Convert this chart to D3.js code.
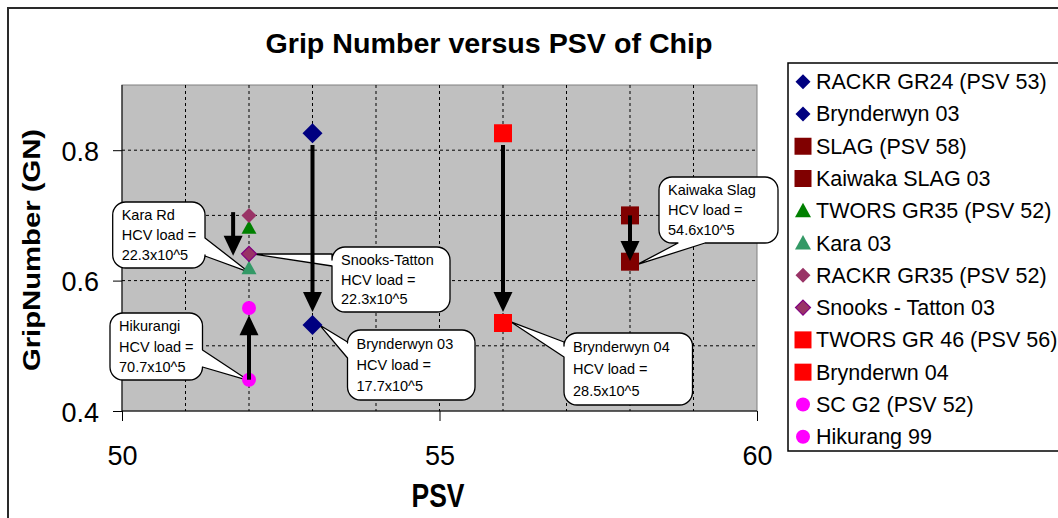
<!DOCTYPE html>
<html>
<head>
<meta charset="utf-8">
<script src="https://cdn.jsdelivr.net/npm/d3@7"></script>
<style>
  html, body { margin: 0; padding: 0; background: #fff; }
  svg { display: block; }
  text { font-family: "Liberation Sans", Arial, sans-serif; }
</style>
</head>
<body>
<svg id="chart" width="1058" height="518"></svg>
<script>
// ---------------- data ----------------
const chartTitle = "Grip Number versus PSV of Chip";
const xAxisTitle = "PSV";
const yAxisTitle = "GripNumber (GN)";

const seriesNames = [
  "RACKR GR24 (PSV 53)", "Brynderwyn 03",
  "SLAG (PSV 58)", "Kaiwaka SLAG 03",
  "TWORS GR35 (PSV 52)", "Kara 03",
  "RACKR GR35 (PSV 52)", "Snooks - Tatton 03",
  "TWORS GR 46 (PSV 56)", "Brynderwn 04",
  "SC G2 (PSV 52)", "Hikurang 99"
];
const psvValues  = [53, 53, 58, 58, 52, 52, 52, 52, 56, 56, 52, 52];
const gripValues = [0.826, 0.532, 0.700, 0.629, 0.681, 0.619, 0.700, 0.641, 0.826, 0.535, 0.558, 0.448];

const xMajorTicks = [50, 55, 60];
const xGridValues = [51, 52, 53, 54, 55, 56, 57, 58, 59];
const yMajorTicks = [0.4, 0.6, 0.8];
const yGridValues = [0.5, 0.6, 0.7, 0.8];
const xTickLabels = ["50", "55", "60"];
const yTickLabels = ["0.4", "0.6", "0.8"];

// arrows (PSV, from GN, to GN)
const arrowPsv  = [53, 56, 58, 51.75, 52];
const arrowFrom = [0.808, 0.808, 0.700, 0.705, 0.448];
const arrowTo   = [0.552, 0.552, 0.630, 0.638, 0.547];

// callouts: text lines and which series point they point at
const calloutLines = [
  ["Kara Rd", "HCV load =", "22.3x10^5"],
  ["Snooks-Tatton", "HCV load =", "22.3x10^5"],
  ["Hikurangi", "HCV load =", "70.7x10^5"],
  ["Brynderwyn 03", "HCV load =", "17.7x10^5"],
  ["Brynderwyn 04", "HCV load =", "28.5x10^5"],
  ["Kaiwaka Slag", "HCV load =", "54.6x10^5"]
];
const calloutTarget = [5, 7, 11, 1, 9, 3];

// ---------------- styles / layout ----------------
const markerShape = ["diamond","diamond","square","square","triangle","triangle","diamond","diamond","square","square","circle","circle"];
const markerFill  = ["#000080","#000080","#800000","#800000","#008000","#339966","#993366","#993366","#FF0000","#FF0000","#FF00FF","#FF00FF"];
const markerStroke= ["none","none","none","none","none","none","none","#800080","none","none","none","none"];
const markerSize  = [10, 10, 9, 9, 7.5, 7.5, 7.5, 7.5, 9, 9, 7, 7];

// callout box layout (pixels) + wedge side/base + tip pixel offset from target point
const calloutLayout = [
  {x:112.7, y:202, w:92.3, h:66, side:"right",  a:238, b:256, dx:0, dy:4},
  {x:332,   y:247, w:118,  h:65, side:"left",   a:254, b:266, dx:3, dy:0},
  {x:110,   y:313, w:92.5, h:67, side:"right",  a:350, b:367, dx:0, dy:1},
  {x:347.5, y:330, w:127.5,h:70, side:"left",   a:342, b:358, dx:7, dy:0},
  {x:564,   y:333, w:128.5,h:72, side:"left",   a:342, b:357, dx:8, dy:-1},
  {x:659,   y:177, w:119,  h:66, side:"bottom", a:678, b:705, dx:7, dy:3}
];

const svg = d3.select("#chart");
const plot = {left: 122, right: 757, top: 85, bottom: 411};

const x = d3.scaleLinear().domain([50, 60]).range([plot.left, plot.right]);
const y = d3.scaleLinear().domain([0.4, 0.9]).range([plot.bottom, plot.top]);

// outer border
svg.append("rect").attr("x", 8).attr("y", 8).attr("width", 1120).attr("height", 600)
  .attr("fill", "#fff").attr("stroke", "#2a2a2a").attr("stroke-width", 2);

// title
svg.append("text").attr("x", 489).attr("y", 53).attr("text-anchor", "middle")
  .attr("font-size", 28).attr("font-weight", "bold")
  .attr("textLength", 447).attr("lengthAdjust", "spacingAndGlyphs")
  .text(chartTitle);

// plot background
svg.append("rect").attr("x", plot.left).attr("y", plot.top)
  .attr("width", plot.right - plot.left).attr("height", plot.bottom - plot.top)
  .attr("fill", "#C0C0C0").attr("stroke", "#808080").attr("stroke-width", 1);

// grid lines
const grid = svg.append("g");
grid.selectAll("line.vx").data(xGridValues).join("line")
  .attr("x1", d => x(d)).attr("x2", d => x(d))
  .attr("y1", plot.top).attr("y2", plot.bottom)
  .attr("stroke", "#000").attr("stroke-width", 1).attr("stroke-dasharray", "3,3");
grid.selectAll("line.hy").data(yGridValues).join("line")
  .attr("y1", d => y(d)).attr("y2", d => y(d))
  .attr("x1", plot.left).attr("x2", plot.right)
  .attr("stroke", "#000").attr("stroke-width", 1).attr("stroke-dasharray", "3,3");

// axes
const xAxis = d3.axisBottom(x).tickValues(xMajorTicks).tickSize(10).tickFormat((d, i) => xTickLabels[i]);
const gx = svg.append("g").attr("transform", `translate(0,${plot.bottom})`).call(xAxis);
gx.select(".domain").attr("stroke", "#000").attr("d", `M${plot.left},0H${plot.right}`);
gx.selectAll(".tick line").attr("stroke", "#000");
gx.selectAll(".tick text").attr("font-size", 27).attr("fill", "#000")
  .attr("font-family", "Liberation Sans, Arial, sans-serif").attr("dy", null).attr("y", 54);

const yAxis = d3.axisLeft(y).tickValues(yMajorTicks).tickSize(9).tickFormat((d, i) => yTickLabels[i]);
const gy = svg.append("g").attr("transform", `translate(${plot.left},0)`).call(yAxis);
gy.select(".domain").attr("stroke", "#000").attr("d", `M0,${plot.bottom}V${plot.top}`);
gy.selectAll(".tick line").attr("stroke", "#000");
gy.selectAll(".tick text").attr("font-size", 27).attr("fill", "#000")
  .attr("font-family", "Liberation Sans, Arial, sans-serif").attr("x", -23).attr("dy", "0.38em");

// axis titles
svg.append("text").attr("x", 438).attr("y", 507).attr("text-anchor", "middle")
  .attr("font-size", 34).attr("font-weight", "bold")
  .attr("textLength", 53).attr("lengthAdjust", "spacingAndGlyphs")
  .text(xAxisTitle);
svg.append("text").attr("text-anchor", "middle")
  .attr("transform", "translate(40,250) rotate(-90) scale(1,0.8)")
  .attr("font-size", 29).attr("font-weight", "bold")
  .attr("textLength", 242).attr("lengthAdjust", "spacingAndGlyphs")
  .text(yAxisTitle);

// marker path generator
function markerPath(shape, s) {
  if (shape === "diamond") return `M0,${-s}L${s},0L0,${s}L${-s},0Z`;
  if (shape === "square") return `M${-s},${-s}H${s}V${s}H${-s}Z`;
  if (shape === "triangle") return `M0,${-s}L${s},${s*0.8}L${-s},${s*0.8}Z`;
  if (shape === "circle") return d3.symbol(d3.symbolCircle, Math.PI * s * s)();
  return "";
}

// callouts
function calloutPath(L, tip) {
  const {x: bx, y: by, w, h} = L, r = 13;
  const R = bx + w, B = by + h;
  let p = `M${bx + r},${by}`;
  p += `H${R - r}A${r},${r} 0 0 1 ${R},${by + r}`;
  if (L.side === "right") p += `V${L.a}L${tip[0]},${tip[1]}L${R},${L.b}`;
  p += `V${B - r}A${r},${r} 0 0 1 ${R - r},${B}`;
  if (L.side === "bottom") p += `H${L.b}L${tip[0]},${tip[1]}L${L.a},${B}`;
  p += `H${bx + r}A${r},${r} 0 0 1 ${bx},${B - r}`;
  if (L.side === "left") p += `V${L.b}L${tip[0]},${tip[1]}L${bx},${L.a}`;
  p += `V${by + r}A${r},${r} 0 0 1 ${bx + r},${by}Z`;
  return p;
}
const callG = svg.append("g");
calloutLines.forEach((lines, i) => {
  const L = calloutLayout[i];
  const t = calloutTarget[i];
  const tip = [x(psvValues[t]) + L.dx, y(gripValues[t]) + L.dy];
  callG.append("path").attr("d", calloutPath(L, tip))
    .attr("fill", "#fff").attr("stroke", "#000").attr("stroke-width", 1.3)
    .attr("stroke-linejoin", "round");
  const lineH = (L.h - 6) / 3;
  callG.selectAll(null).data(lines).join("text")
    .attr("x", L.x + 9)
    .attr("y", (d, k) => L.y + 3 + lineH * (k + 0.5) + 5)
    .attr("font-size", 14.5).attr("fill", "#000")
    .text(d => d);
});

// markers
const idx = d3.range(seriesNames.length);
svg.append("g").selectAll("path").data(idx).join("path")
  .attr("transform", i => `translate(${x(psvValues[i])},${y(gripValues[i])})`)
  .attr("d", i => markerPath(markerShape[i], markerSize[i]))
  .attr("fill", i => markerFill[i])
  .attr("stroke", i => markerStroke[i]).attr("stroke-width", 1.2);

// arrows
const arrG = svg.append("g");
arrowPsv.forEach((p, i) => {
  const ax = x(p), y1 = y(arrowFrom[i]), y2 = y(arrowTo[i]);
  const dir = y2 > y1 ? 1 : -1;
  const headLen = 20, headHalf = 9.5;
  arrG.append("line").attr("x1", ax).attr("x2", ax)
    .attr("y1", y1).attr("y2", y2 - dir * (headLen - 2))
    .attr("stroke", "#000").attr("stroke-width", 4);
  arrG.append("path")
    .attr("d", `M${ax},${y2}L${ax + headHalf},${y2 - dir * headLen}L${ax - headHalf},${y2 - dir * headLen}Z`)
    .attr("fill", "#000");
});

// legend
const leg = svg.append("g");
leg.append("rect").attr("x", 788).attr("y", 63).attr("width", 320).attr("height", 388)
  .attr("fill", "#fff").attr("stroke", "#000").attr("stroke-width", 1.5);
const legendMarkerSize = {diamond: 7.5, square: 8.5, triangle: 8, circle: 7};
const legendRow = d3.scaleLinear().domain([0, 11]).range([81.7, 436.7]);
idx.forEach(i => {
  const cy = legendRow(i);
  leg.append("path")
    .attr("transform", `translate(803,${cy})`)
    .attr("d", markerPath(markerShape[i], legendMarkerSize[markerShape[i]]))
    .attr("fill", markerFill[i])
    .attr("stroke", markerStroke[i]).attr("stroke-width", 1.2);
  leg.append("text").attr("x", 816).attr("y", cy + 7.5)
    .attr("font-size", 21.5).attr("fill", "#000").text(seriesNames[i]);
});
</script>
</body>
</html>
